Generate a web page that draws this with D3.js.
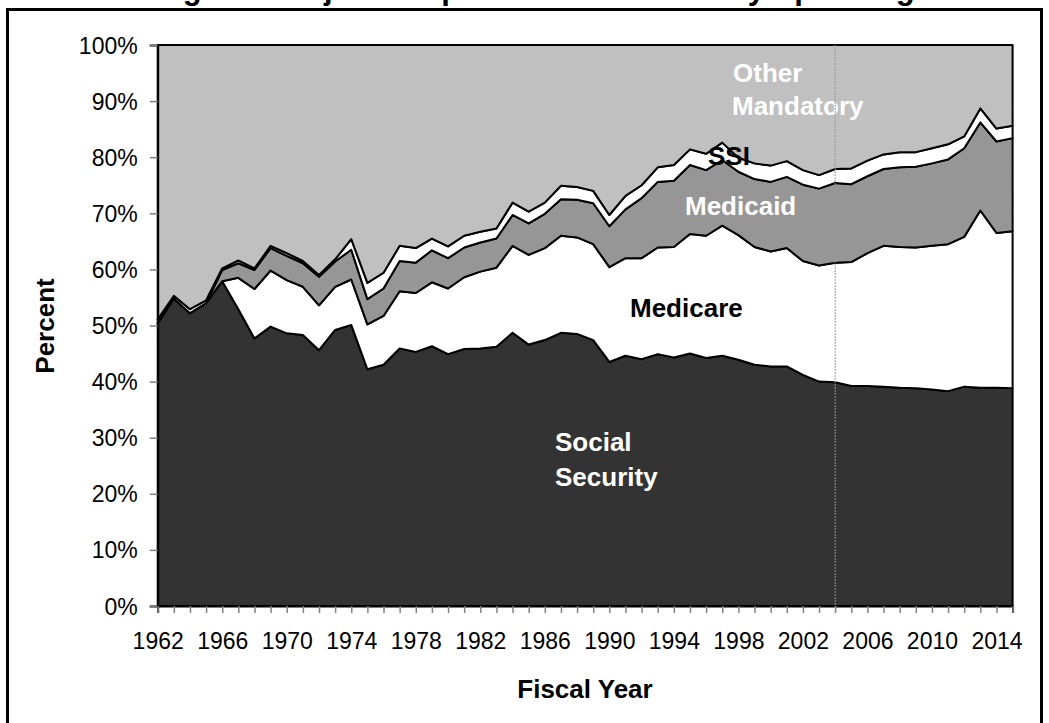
<!DOCTYPE html>
<html>
<head>
<meta charset="utf-8">
<script src="https://cdn.jsdelivr.net/npm/d3@7"></script>
<style>
  html, body { margin: 0; padding: 0; background: #fff; }
  svg { display: block; font-family: "Liberation Sans", Arial, sans-serif; }
</style>
</head>
<body>
<svg id="chart" width="1049" height="723"></svg>
<script>
// ---- data (percent of mandatory spending) ----
const years = d3.range(1962, 2016);
const socialSecurity = [50.4,54.8,52.2,54.0,57.9,52.9,47.7,49.8,48.6,48.3,45.6,49.2,50.1,42.2,43.0,45.9,45.3,46.3,44.9,45.8,45.9,46.2,48.7,46.6,47.4,48.7,48.5,47.4,43.5,44.6,44.0,44.9,44.3,45.0,44.2,44.6,43.9,43.0,42.7,42.7,41.2,40.0,39.9,39.2,39.2,39.1,38.9,38.8,38.6,38.3,39.1,38.9,38.9,38.8];
const medicare = [0,0,0,0,0,5.6,8.8,10.0,9.5,8.6,8.0,7.7,8.1,8.0,8.7,10.2,10.5,11.4,11.7,12.8,13.7,14.1,15.5,16.0,16.4,17.3,17.2,17.1,16.9,17.4,18.0,19.0,19.7,21.3,21.8,23.2,22.2,21.0,20.5,21.1,20.3,20.7,21.3,22.1,23.7,25.1,25.1,25.1,25.6,26.2,26.7,31.6,27.6,28.0];
const medicaid = [0,0,0,0,2.0,2.6,3.4,4.0,4.3,4.2,5.1,4.5,5.3,4.5,4.9,5.4,5.4,5.7,5.4,5.3,5.2,5.2,5.5,5.6,6.1,6.5,6.7,7.3,7.3,8.7,10.7,11.7,11.8,12.3,11.7,11.7,11.3,12.1,12.4,12.7,13.6,13.7,14.2,13.9,13.7,13.7,14.2,14.4,14.7,15.1,15.8,15.7,16.3,16.6];
const ssi = [0.7,0.5,0.7,0.5,0.3,0.5,0.3,0.4,0.5,0.4,0.3,0.4,1.9,2.9,2.8,2.7,2.6,2.1,2.1,2.1,1.9,1.8,2.2,2.1,2.0,2.4,2.3,2.2,2.0,2.4,2.3,2.6,2.8,2.8,2.9,3.1,2.5,2.8,2.9,2.8,2.6,2.4,2.5,2.8,2.8,2.6,2.7,2.6,2.7,2.7,2.1,2.5,2.3,2.2];
const otherMandatory = [48.9,44.7,47.1,45.5,39.8,38.4,39.8,35.8,37.1,38.5,41.0,38.2,34.6,42.4,40.6,35.8,36.2,34.5,35.9,34.0,33.3,32.7,28.1,29.7,28.1,25.1,25.3,26.0,30.3,26.9,25.0,21.8,21.4,18.6,19.4,17.4,20.1,21.1,21.5,20.7,22.3,23.2,22.1,22.0,20.6,19.5,19.1,19.1,18.4,17.7,16.3,11.3,14.9,14.4];
const seriesKeys = ["Social Security", "Medicare", "Medicaid", "SSI", "Other Mandatory"];
const seriesValues = [socialSecurity, medicare, medicaid, ssi, otherMandatory];
const yTicks = [0,10,20,30,40,50,60,70,80,90,100];
const xLabelYears = [1962,1966,1970,1974,1978,1982,1986,1990,1994,1998,2002,2006,2010,2014];
const markerYear = 2004;
const titleText = "Changes in Major Components of Mandatory Spending";

// ---- styles ----
const fills = ["#333333", "#ffffff", "#969696", "#ffffff", "#c0c0c0"];

const svg = d3.select("#chart");
const plotL = 157.7, plotR = 1012.6, plotT = 45, plotB = 606;

const x = d3.scaleLinear().domain([1962, 2015]).range([plotL, plotR]);
const y = d3.scaleLinear().domain([0, 100]).range([plotB, plotT]);

// outer frame
svg.append("rect").attr("x", 7.5).attr("y", 9.5).attr("width", 1034).attr("height", 730)
  .attr("fill", "none").attr("stroke", "#000").attr("stroke-width", 3);

// title (cut off at the top edge, as in the reference)
svg.append("text").attr("x", 510).attr("y", -1).attr("text-anchor", "middle")
  .attr("font-size", 31).attr("font-weight", "bold").text(titleText);

// data table
const table = years.map((yr, i) => {
  const row = { year: yr };
  seriesKeys.forEach((k, j) => row[k] = seriesValues[j][i]);
  return row;
});
const stacked = d3.stack().keys(seriesKeys)(table);

const area = d3.area()
  .x(d => x(d.data.year))
  .y0(d => y(d[0]))
  .y1(d => y(d[1]));

svg.append("g").selectAll("path").data(stacked).join("path")
  .attr("d", area)
  .attr("fill", (d, i) => fills[i])
  .attr("stroke", "#000")
  .attr("stroke-width", 2)
  .attr("stroke-linejoin", "round");

// axes
const yAxis = d3.axisLeft(y).tickValues(yTicks).tickFormat(d => d + "%").tickSize(8).tickPadding(12);
const gy = svg.append("g").attr("transform", `translate(${plotL},0)`).call(yAxis);
gy.select(".domain").attr("stroke", "#000").attr("stroke-width", 2);
gy.selectAll(".tick line").attr("stroke", "#808080").attr("stroke-width", 1.5);
gy.selectAll(".tick text").attr("font-size", 23).attr("fill", "#000")
  .attr("font-family", "Liberation Sans, Arial, sans-serif").attr("dy", "0.35em");

const xAxis = d3.axisBottom(x).tickValues(years).tickFormat(d => xLabelYears.includes(d) ? String(d) : "")
  .tickSize(7).tickPadding(20);
const gx = svg.append("g").attr("transform", `translate(0,${plotB})`).call(xAxis);
gx.select(".domain").attr("stroke", "#000").attr("stroke-width", 2);
gx.selectAll(".tick line").attr("stroke", "#808080").attr("stroke-width", 1.5);
gx.selectAll(".tick text").attr("font-size", 23).attr("fill", "#000")
  .attr("font-family", "Liberation Sans, Arial, sans-serif");

// axis titles
svg.append("text").attr("transform", "translate(54,326) rotate(-90)").attr("text-anchor", "middle")
  .attr("font-size", 26).attr("font-weight", "bold").text("Percent");
svg.append("text").attr("x", 585).attr("y", 698).attr("text-anchor", "middle")
  .attr("font-size", 26).attr("font-weight", "bold").text("Fiscal Year");

// series labels
const lab = svg.append("g").attr("font-size", 26).attr("font-weight", "bold");
lab.append("text").attr("x", 733).attr("y", 82).attr("fill", "#fff").text("Other");
lab.append("text").attr("x", 732).attr("y", 115).attr("fill", "#fff").text("Mandatory");
lab.append("text").attr("x", 708).attr("y", 165).attr("fill", "#000").text("SSI");
lab.append("text").attr("x", 685).attr("y", 215).attr("fill", "#fff").text("Medicaid");
lab.append("text").attr("x", 630).attr("y", 317).attr("fill", "#000").text("Medicare");
lab.append("text").attr("x", 555).attr("y", 451).attr("fill", "#fff").text("Social");
lab.append("text").attr("x", 555).attr("y", 486).attr("fill", "#fff").text("Security");

// projection marker line
svg.append("line").attr("x1", x(markerYear)).attr("x2", x(markerYear)).attr("y1", plotT).attr("y2", plotB + 7)
  .attr("stroke", "#9a9a9a").attr("stroke-width", 1).attr("stroke-dasharray", "2,1");
</script>
</body>
</html>
